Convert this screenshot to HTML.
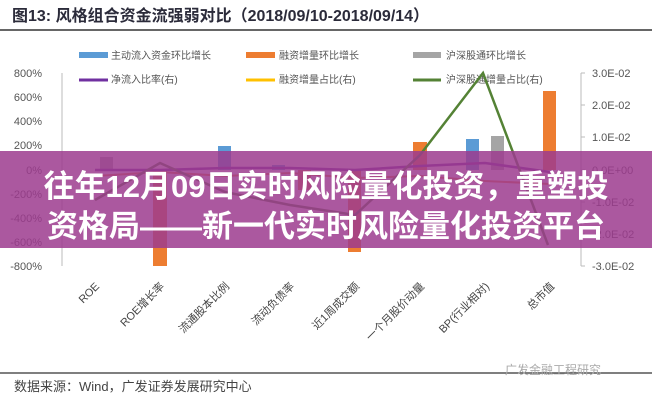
<!DOCTYPE html>
<html><head><meta charset="utf-8"><style>
body{margin:0;background:#fff;}
svg{display:block;}
.t{font-family:"Liberation Sans","Noto Sans CJK SC",sans-serif;}
</style></head><body>
<svg width="652" height="400" xmlns="http://www.w3.org/2000/svg">
<rect width="652" height="400" fill="#fff"/>
<text x="12" y="21" class="t" font-size="16" font-weight="bold" fill="#2b2b3a">图13:  风格组合资金流强弱对比（2018/09/10-2018/09/14）</text>
<line x1="0" y1="30" x2="652" y2="30" stroke="#333" stroke-width="1.5"/>
<g class="t" font-size="10" fill="#555">
<rect x="79" y="52" width="29" height="6" fill="#5b9bd5"/><text x="111" y="59">主动流入资金环比增长</text>
<rect x="246" y="52" width="29" height="6" fill="#ed7d31"/><text x="279" y="59">融资增量环比增长</text>
<rect x="413" y="52" width="28" height="6" fill="#a5a5a5"/><text x="446" y="59">沪深股通环比增长</text>
<line x1="79" y1="80" x2="108" y2="80" stroke="#7030a0" stroke-width="3"/><text x="111" y="83">净流入比率(右)</text>
<line x1="246" y1="80" x2="275" y2="80" stroke="#ffc000" stroke-width="3"/><text x="279" y="83">融资增量占比(右)</text>
<line x1="413" y1="80" x2="441" y2="80" stroke="#548235" stroke-width="3"/><text x="446" y="83">沪深股通增量占比(右)</text>
</g>
<line x1="62" y1="73" x2="62" y2="266" stroke="#bbb"/>
<line x1="581" y1="73" x2="581" y2="266" stroke="#bbb"/>
<g stroke="#bbb"><line x1="581" y1="73" x2="585" y2="73"/><line x1="581" y1="105" x2="585" y2="105"/><line x1="581" y1="137" x2="585" y2="137"/><line x1="581" y1="170" x2="585" y2="170"/><line x1="581" y1="202" x2="585" y2="202"/><line x1="581" y1="234" x2="585" y2="234"/><line x1="581" y1="266" x2="585" y2="266"/></g>
<g class="t" font-size="11" fill="#555" text-anchor="end">
<text x="42" y="77">800%</text><text x="42" y="101">600%</text><text x="42" y="125">400%</text><text x="42" y="149">200%</text><text x="42" y="174">0%</text><text x="42" y="198">-200%</text><text x="42" y="222">-400%</text><text x="42" y="246">-600%</text><text x="42" y="270">-800%</text>
</g>
<g class="t" font-size="11" fill="#555">
<text x="592" y="77">3.0E-02</text><text x="592" y="109">2.0E-02</text><text x="592" y="141">1.0E-02</text><text x="592" y="174">0.0E+00</text><text x="592" y="206">-1.0E-02</text><text x="592" y="238">-2.0E-02</text><text x="592" y="270">-3.0E-02</text>
</g>
<rect x="100" y="157" width="13" height="13" fill="#a5a5a5"/>
<rect x="153" y="170" width="14" height="96" fill="#ed7d31"/>
<rect x="218" y="146" width="13" height="24" fill="#5b9bd5"/>
<rect x="272" y="165" width="13" height="5" fill="#5b9bd5"/>
<rect x="298" y="170" width="13" height="20" fill="#ed7d31"/>
<rect x="348" y="170" width="13" height="82" fill="#ed7d31"/>
<rect x="413" y="142" width="14" height="28" fill="#ed7d31"/>
<rect x="466" y="139" width="13" height="31" fill="#5b9bd5"/>
<rect x="491" y="136" width="13" height="34" fill="#a5a5a5"/>
<rect x="543" y="91" width="13" height="79" fill="#ed7d31"/>
<polyline points="95,176 160,172 225,176 290,173 355,178 420,176 485,181 550,184" fill="none" stroke="#ed7d31" stroke-width="2"/>
<polyline points="95,170 160,170 225,168 290,168 355,170 420,166 485,163 550,172" fill="none" stroke="#7030a0" stroke-width="2.5"/>
<polyline points="95,200 160,163 225,192 290,205 355,215 420,155 483,73 548,245" fill="none" stroke="#548235" stroke-width="2.5"/>
<g class="t" font-size="11" fill="#444" text-anchor="end">
<text transform="translate(100,287) rotate(-45)">ROE</text>
<text transform="translate(165,287) rotate(-45)">ROE增长率</text>
<text transform="translate(230,287) rotate(-45)">流通股本比例</text>
<text transform="translate(295,287) rotate(-45)">流动负债率</text>
<text transform="translate(360,287) rotate(-45)">近1周成交额</text>
<text transform="translate(425,287) rotate(-45)">一个月股价动量</text>
<text transform="translate(490,287) rotate(-45)">BP(行业相对)</text>
<text transform="translate(555,287) rotate(-45)">总市值</text>
</g>
<line x1="0" y1="373" x2="652" y2="373" stroke="#333" stroke-width="1.2"/>
<text x="14" y="391" class="t" font-size="13" fill="#444">数据来源：Wind，广发证券发展研究中心</text>
<text x="505" y="374" class="t" font-size="12" fill="#aaa">广发金融工程研究</text>
<rect x="0" y="151" width="652" height="97" fill="#9c3b8e" fill-opacity="0.85"/>
<g class="t" font-size="31" font-weight="bold" fill="#fff" text-anchor="middle">
<text x="326" y="197">往年12月09日实时风险量化投资，重塑投</text>
<text x="326" y="237">资格局——新一代实时风险量化投资平台</text>
</g>
</svg>
</body></html>
